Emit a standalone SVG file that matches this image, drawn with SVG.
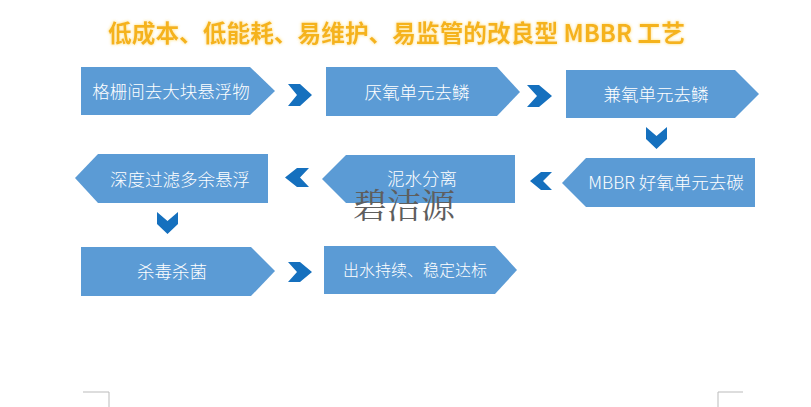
<svg xmlns="http://www.w3.org/2000/svg" width="811" height="407" viewBox="0 0 811 407">
  <defs>
    <filter id="glow" x="-5%" y="-30%" width="110%" height="160%">
      <feGaussianBlur in="SourceAlpha" stdDeviation="1.6" result="b"/>
      <feFlood flood-color="#FFE9A0" flood-opacity="0.9"/>
      <feComposite in2="b" operator="in" result="g"/>
      <feMerge><feMergeNode in="g"/><feMergeNode in="g"/><feMergeNode in="SourceGraphic"/></feMerge>
    </filter>
  </defs>
  <style>
    .box { fill: #5B9BD5; }
    .chev { fill: #1570BE; }
    .lbl { font-family: "Noto Sans CJK SC", "Noto Sans", sans-serif; fill: #FFFFFF; font-size: 17.5px; text-anchor: middle; font-weight: 300; }
    .title { font-family: "Noto Sans CJK SC", "Noto Sans", sans-serif; fill: #F5B31A; font-size: 23.7px; font-weight: 700; }
    .mark { stroke: #BBBBBB; stroke-width: 1; fill: none; }
    .wm { font-family: "Noto Serif CJK SC", "Noto Sans CJK SC", serif; fill: #5E5E5E; font-size: 34px; }
  </style>
  <rect width="811" height="407" fill="#FFFFFF"/>
  <text class="title" x="108" y="42" filter="url(#glow)">低成本、低能耗、易维护、易监管的改良型 MBBR 工艺</text>

  <g id="n1"><polygon class="box" points="81,67 250,67 275,91 250,115 81,115"/><text class="lbl" x="171" y="98">格栅间去大块悬浮物</text></g>
  <g id="n2"><polygon class="box" points="326,67 497,67 520,92 497,116 326,116"/><text class="lbl" x="417" y="99">厌氧单元去鳞</text></g>
  <g id="n3"><polygon class="box" points="566,70 735,70 759,94 735,118 566,118"/><text class="lbl" x="656" y="101">兼氧单元去鳞</text></g>
  <g id="n4"><polygon class="box" points="562,183 586,158 755,158 755,207 586,207"/><text class="lbl" x="666" y="189">MBBR 好氧单元去碳</text></g>
  <g id="n5"><polygon class="box" points="322,179 346,155 515,155 515,203 346,203"/><text class="lbl" x="422" y="185">泥水分离</text></g>
  <g id="n6"><polygon class="box" points="75,178 98,154 268,154 268,203 98,203"/><text class="lbl" x="180" y="186">深度过滤多余悬浮</text></g>
  <g id="n7"><polygon class="box" points="81,247 251,247 275,271 251,296 81,296"/><text class="lbl" x="172" y="278">杀毒杀菌</text></g>
  <g id="n8"><polygon class="box" points="324,246 495,246 517,270 495,294 324,294"/><text class="lbl" x="415" y="276" style="font-size:16px">出水持续、稳定达标</text></g>

  <g id="connectors">
    <polygon class="chev" points="288,84 300,84 312,95 300,106 288,106 297,95"/>
    <polygon class="chev" points="527,85 539,85 552,96 539,107 527,107 537,96"/>
    <polygon class="chev" points="646,127 656.5,136 667,127 667,139 656.5,149 646,139"/>
    <polygon class="chev" points="552,172 541,172 530,181 541,190 552,190 543,181"/>
    <polygon class="chev" points="309,168 297,168 285,177.5 297,187 309,187 300,177.5"/>
    <polygon class="chev" points="157,212 167.5,221 178,212 178,224 167.5,234 157,224"/>
    <polygon class="chev" points="288,262 300,262 312,272 300,282 288,282 297,272"/>
  </g>

  <text class="wm" x="353" y="218">碧洁源</text>
  <polyline class="mark" points="83,392 109,392 109,407"/>
  <polyline class="mark" points="743,392 718,392 718,407"/>
</svg>
